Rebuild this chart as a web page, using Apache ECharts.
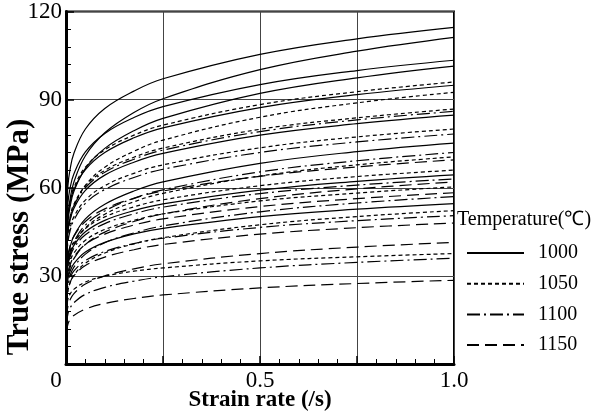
<!DOCTYPE html>
<html><head><meta charset="utf-8">
<script src="https://cdn.jsdelivr.net/npm/echarts@6/dist/echarts.min.js"></script>
<style>html,body{margin:0;padding:0;background:#fff}#c{width:598px;height:415px}</style>
</head><body><div id="c"></div>
<script>
// strain rates (/s) at which each curve is read
const strainRates = [0.001, 0.005, 0.01, 0.02, 0.05, 0.1, 0.175, 0.25, 0.5, 0.75, 1.0];
const temperatures = ['1000', '1050', '1100', '1150'];
// true stress (MPa), one row per curve
const stress1000 = [
  [50.1, 60.7, 65.9, 71.6, 80.0, 87.0, 92.9, 97.1, 105.4, 110.7, 114.6],
  [39.5, 50.3, 55.7, 61.8, 70.9, 78.7, 85.6, 90.3, 100.2, 106.5, 111.2],
  [45.2, 54.8, 59.5, 64.6, 72.2, 78.5, 83.9, 87.6, 95.1, 99.9, 103.4],
  [38.5, 48.3, 53.2, 58.6, 66.6, 73.4, 79.4, 83.6, 92.1, 97.4, 101.4],
  [41.5, 50.3, 54.6, 59.3, 66.2, 72.0, 77.0, 80.4, 87.3, 91.7, 94.9],
  [37.0, 44.9, 48.7, 52.9, 59.1, 64.3, 68.7, 71.7, 77.9, 81.8, 84.7],
  [28.6, 35.8, 39.5, 43.5, 49.4, 54.4, 58.9, 62.0, 68.3, 72.3, 75.2],
  [28.1, 34.1, 37.0, 40.3, 45.0, 48.9, 52.2, 54.5, 59.2, 62.2, 64.4],
  [23.9, 28.9, 31.4, 34.1, 38.1, 41.4, 44.3, 46.2, 50.2, 52.7, 54.6]
];
const stress1050 = [
  [42.0, 50.9, 55.2, 60.0, 67.0, 72.9, 77.9, 81.3, 88.3, 92.7, 96.0],
  [35.2, 44.0, 48.6, 53.5, 60.8, 67.0, 72.4, 76.2, 84.0, 88.9, 92.5],
  [37.9, 46.0, 49.9, 54.3, 60.6, 65.9, 70.4, 73.5, 79.9, 83.8, 86.8],
  [35.0, 42.4, 46.0, 50.0, 55.8, 60.7, 64.9, 67.8, 73.6, 77.3, 80.0],
  [26.8, 33.6, 37.0, 40.7, 46.3, 51.0, 55.2, 58.1, 64.0, 67.8, 70.5],
  [28.8, 35.0, 38.0, 41.3, 46.1, 50.1, 53.5, 55.9, 60.7, 63.8, 66.0],
  [26.4, 32.0, 34.7, 37.7, 42.1, 45.8, 48.9, 51.1, 55.5, 58.2, 60.3],
  [19.8, 24.8, 27.4, 30.2, 34.3, 37.8, 40.9, 43.0, 47.4, 50.2, 52.2],
  [18.8, 22.1, 23.7, 25.4, 27.9, 29.9, 31.6, 32.7, 35.1, 36.5, 37.6]
];
const stress1100 = [
  [37.6, 45.6, 49.5, 53.8, 60.0, 65.3, 69.7, 72.8, 79.1, 83.1, 86.0],
  [34.2, 41.5, 45.0, 48.9, 54.7, 59.4, 63.5, 66.3, 72.0, 75.6, 78.3],
  [27.4, 34.3, 37.8, 41.6, 47.3, 52.1, 56.4, 59.3, 65.4, 69.2, 72.0],
  [27.5, 33.4, 36.2, 39.4, 44.0, 47.8, 51.1, 53.4, 58.0, 60.9, 63.0],
  [21.7, 27.1, 29.9, 32.9, 37.4, 41.3, 44.6, 47.0, 51.8, 54.8, 57.0],
  [22.1, 26.8, 29.0, 31.6, 35.2, 38.3, 41.0, 42.8, 46.5, 48.8, 50.5],
  [13.7, 17.1, 18.9, 20.8, 23.7, 26.1, 28.2, 29.7, 32.7, 34.6, 36.0]
];
const stress1150 = [
  [30.4, 36.8, 40.0, 43.4, 48.5, 52.8, 56.4, 58.9, 63.9, 67.1, 69.5],
  [23.6, 29.5, 32.6, 35.8, 40.7, 44.9, 48.5, 51.1, 56.3, 59.6, 62.0],
  [25.5, 30.9, 33.5, 36.4, 40.7, 44.2, 47.3, 49.4, 53.6, 56.3, 58.3],
  [21.0, 25.4, 27.6, 30.0, 33.5, 36.4, 38.9, 40.7, 44.2, 46.4, 48.0],
  [15.7, 19.7, 21.7, 23.9, 27.2, 30.0, 32.4, 34.1, 37.6, 39.8, 41.4],
  [10.8, 13.6, 15.0, 16.5, 18.7, 20.6, 22.3, 23.5, 25.9, 27.4, 28.5]
];
const xTickLabels = { '0': '0', '0.5': '0.5', '1': '1.0' };
const yTickLabels = [30, 60, 90, 120];

const stressByTemp = [stress1000, stress1050, stress1100, stress1150];
const dashes = ['solid', [4, 3], [13, 4, 2, 4], [12, 6]];
const FONT = 'Liberation Serif, Times New Roman, serif';

const series = [];
temperatures.forEach((t, k) => {
  stressByTemp[k].forEach(curve => {
    series.push({
      type: 'line', name: t, symbol: 'none', showSymbol: false, smooth: 0.4,
      silent: true, z: 3, color: '#000',
      lineStyle: { color: '#000', width: 1.2, type: dashes[k] },
      data: strainRates.map((x, i) => [x, curve[i]])
    });
  });
});

const chart = echarts.init(document.getElementById('c'), null, { renderer: 'canvas' });
chart.setOption({
  animation: false,
  backgroundColor: '#fff',
  color: ['#000'],
  grid: { left: 66, right: 144, top: 10, bottom: 51, show: true, borderColor: '#000', borderWidth: 2 },
  xAxis: {
    type: 'value', min: 0, max: 1, interval: 0.25,
    axisLine: { lineStyle: { color: '#000', width: 3 } },
    axisTick: { inside: true, length: 8, lineStyle: { color: '#000', width: 1.5 } },
    minorTick: { show: true, splitNumber: 5, length: 5, lineStyle: { color: '#000', width: 1 } },
    splitLine: { show: true, lineStyle: { color: '#444', width: 1 } },
    axisLabel: {
      color: '#000', fontFamily: FONT, fontSize: 23, margin: 5,
      formatter: v => { const s = xTickLabels[String(v)]; if (s === undefined) return ''; return v === 0 ? '{z|' + s + '}' : s; },
      rich: { z: { fontFamily: FONT, fontSize: 23, color: '#000', padding: [0, 20, 0, 0] } }
    }
  },
  yAxis: {
    type: 'value', min: 0, max: 120, interval: 30,
    axisLine: { lineStyle: { color: '#000', width: 3 } },
    axisTick: { inside: true, length: 8, lineStyle: { color: '#000', width: 1.5 } },
    minorTick: { show: true, splitNumber: 5, length: 5, lineStyle: { color: '#000', width: 1 } },
    splitLine: { show: true, lineStyle: { color: '#444', width: 1 } },
    axisLabel: {
      color: '#000', fontFamily: FONT, fontSize: 23, margin: 4,
      formatter: v => yTickLabels.indexOf(v) >= 0 ? String(v) : ''
    }
  },
  title: {
    text: 'Temperature(℃)', left: 457, top: 210, padding: 0,
    textStyle: { fontFamily: FONT, fontSize: 20, fontWeight: 'normal', color: '#000' }
  },
  legend: {
    orient: 'vertical', left: 466, top: 242, padding: 0,
    itemWidth: 57, itemHeight: 14, itemGap: 8.7, selectedMode: false,
    data: temperatures,
    itemStyle: { opacity: 0 },
    textStyle: { fontFamily: FONT, fontSize: 20, color: '#000', lineHeight: 22, padding: [0, 0, 0, 9] }
  },
  graphic: [
    { type: 'text', x: 20, y: 237, rotation: Math.PI / 2,
      style: { text: 'True stress (MPa)', font: 'bold 31px ' + FONT, fill: '#000', align: 'center', verticalAlign: 'middle' } },
    { type: 'text', x: 260, y: 400,
      style: { text: 'Strain rate (/s)', font: 'bold 23px ' + FONT, fill: '#000', align: 'center', verticalAlign: 'middle' } }
  ],
  series: series
});
</script></body></html>
